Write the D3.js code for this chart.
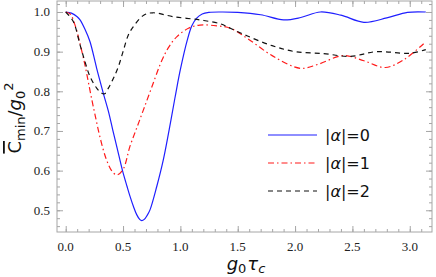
<!DOCTYPE html>
<html><head><meta charset="utf-8">
<script src="https://cdn.jsdelivr.net/npm/d3@7"></script>
<style>html,body{margin:0;padding:0;background:#fff;}svg{display:block;}</style>
</head><body>
<svg id="c" width="436" height="277"></svg>
<script>
// ---- data ----
const xTicks = [0.0, 0.5, 1.0, 1.5, 2.0, 2.5, 3.0];
const yTicks = [0.5, 0.6, 0.7, 0.8, 0.9, 1.0];
const seriesNames = ["|α|=0", "|α|=1", "|α|=2"];

const alpha0X = [0, 0.05, 0.1, 0.125, 0.17, 0.212, 0.27, 0.328, 0.372, 0.41, 0.45, 0.497, 0.535, 0.561, 0.59, 0.619, 0.645, 0.663, 0.685, 0.71, 0.735, 0.794, 0.851, 0.918, 0.96, 1.0, 1.06, 1.1, 1.14, 1.19, 1.25, 1.35, 1.5, 1.7, 1.9, 2.05, 2.22, 2.4, 2.6, 2.8, 2.98, 3.14];
const alpha0Y = [1.0, 0.997, 0.988, 0.98, 0.955, 0.925, 0.858, 0.795, 0.75, 0.703, 0.655, 0.598, 0.56, 0.535, 0.51, 0.489, 0.477, 0.474, 0.477, 0.487, 0.501, 0.56, 0.627, 0.728, 0.795, 0.855, 0.929, 0.965, 0.984, 0.995, 0.999, 1.0, 0.999, 0.993, 0.98, 0.986, 1.0, 0.992, 0.974, 0.985, 0.999, 1.0];

const alpha1X = [0, 0.04, 0.08, 0.125, 0.168, 0.197, 0.227, 0.26, 0.3, 0.35, 0.4, 0.445, 0.5, 0.56, 0.62, 0.68, 0.75, 0.84, 0.9, 0.97, 1.07, 1.17, 1.32, 1.435, 1.6, 1.8, 2.045, 2.2, 2.42, 2.6, 2.786, 2.95, 3.14];
const alpha1Y = [1.0, 0.995, 0.968, 0.92, 0.866, 0.824, 0.78, 0.735, 0.683, 0.632, 0.6, 0.589, 0.603, 0.661, 0.708, 0.755, 0.81, 0.879, 0.912, 0.938, 0.959, 0.967, 0.965, 0.959, 0.93, 0.89, 0.858, 0.868, 0.89, 0.877, 0.86, 0.88, 0.925];

const alpha2X = [0, 0.066, 0.125, 0.168, 0.212, 0.27, 0.314, 0.34, 0.372, 0.415, 0.459, 0.5, 0.546, 0.59, 0.68, 0.76, 0.94, 1.17, 1.35, 1.435, 1.58, 1.8, 2.0, 2.25, 2.48, 2.71, 3.0, 3.14];
const alpha2Y = [1.0, 0.976, 0.917, 0.875, 0.837, 0.808, 0.795, 0.794, 0.808, 0.832, 0.862, 0.9, 0.942, 0.963, 0.992, 0.998, 0.988, 0.98, 0.97, 0.959, 0.94, 0.915, 0.9, 0.895, 0.888, 0.9, 0.896, 0.905];

// ---- layout ----
const svg = d3.select("#c");
const L = 57, R = 432, T = 1, B = 232;
const x = d3.scaleLinear().domain([-0.0759, 3.194]).range([L, R]);
const y = d3.scaleLinear().domain([0.4452, 1.0277]).range([B, T]);

const frameColor = "#a6a6a6";
const serif = "'Liberation Serif','DejaVu Serif',serif";
const sans = "'DejaVu Sans',sans-serif";

const xMinor = d3.range(0, 32).map(i => +(i * 0.1).toFixed(2)).filter(v => x(v) <= R);
const yMinor = d3.range(22, 52).map(i => +(i * 0.02).toFixed(2)).filter(v => y(v) >= T && y(v) <= B);

function tickAxis(axisFn, scale, vals, size, transform) {
  const g = svg.append("g").attr("transform", transform)
    .call(axisFn(scale).tickValues(vals).tickSize(size).tickFormat(""));
  g.select(".domain").remove();
  g.selectAll(".tick line").attr("stroke", frameColor).attr("stroke-width", 1);
  return g;
}
// bottom (inward)
tickAxis(d3.axisTop, x, xMinor, 3, `translate(0,${B})`);
tickAxis(d3.axisTop, x, xTicks, 6, `translate(0,${B})`);
svg.append("g").selectAll("text").data(xTicks).join("text")
  .attr("x", d => x(d)).attr("y", 251).attr("text-anchor", "middle")
  .attr("font-family", serif).attr("font-size", 13).attr("fill", "#222")
  .text(d => d3.format(".1f")(d));
// top
tickAxis(d3.axisBottom, x, xMinor, 3, `translate(0,${T})`);
tickAxis(d3.axisBottom, x, xTicks, 6, `translate(0,${T})`);
// left
tickAxis(d3.axisRight, y, yMinor, 3, `translate(${L},0)`);
tickAxis(d3.axisRight, y, yTicks, 6, `translate(${L},0)`);
svg.append("g").selectAll("text").data(yTicks).join("text")
  .attr("x", 50).attr("y", d => y(d) + 4.5).attr("text-anchor", "end")
  .attr("font-family", serif).attr("font-size", 13).attr("fill", "#222")
  .text(d => d3.format(".1f")(d));
// right
tickAxis(d3.axisLeft, y, yMinor, 3, `translate(${R},0)`);
tickAxis(d3.axisLeft, y, yTicks, 6, `translate(${R},0)`);

// frame
svg.append("rect").attr("x", L).attr("y", T).attr("width", R - L).attr("height", B - T)
  .attr("fill", "none").attr("stroke", frameColor).attr("stroke-width", 1);

// ---- curves ----
const series = [
  { name: seriesNames[0], xs: alpha0X, ys: alpha0Y, color: "#1f1fff", dash: null },
  { name: seriesNames[1], xs: alpha1X, ys: alpha1Y, color: "#ff1a1a", dash: "6,3,1.5,3" },
  { name: seriesNames[2], xs: alpha2X, ys: alpha2Y, color: "#111", dash: "5,4" }
];
const line = d3.line().x(d => x(d[0])).y(d => y(d[1])).curve(d3.curveCatmullRom.alpha(0.5));
const plot = svg.append("g");
plot.append("clipPath").attr("id", "clip").append("rect")
  .attr("x", L).attr("y", T).attr("width", R - L).attr("height", B - T);
series.forEach(s => {
  plot.append("path").datum(d3.zip(s.xs, s.ys))
    .attr("clip-path", "url(#clip)")
    .attr("d", line).attr("fill", "none").attr("stroke", s.color)
    .attr("stroke-width", 1.2).attr("stroke-dasharray", s.dash);
});

// ---- legend ----
const leg = svg.append("g");
series.forEach((s, i) => {
  const ly = 135 + i * 28;
  leg.append("line").attr("x1", 268).attr("x2", 317).attr("y1", ly).attr("y2", ly)
    .attr("stroke", s.color).attr("stroke-width", 1.2).attr("stroke-dasharray", s.dash);
  const t = leg.append("text").attr("x", 325).attr("y", ly + 6)
    .attr("font-family", sans).attr("font-size", 16).attr("fill", "#111");
  const parts = s.name.split("α");
  t.append("tspan").text(parts[0]);
  t.append("tspan").attr("font-style", "italic").text("α");
  t.append("tspan").text(parts[1]);
});

// ---- axis labels ----
const xl = svg.append("text").attr("x", 246).attr("y", 270).attr("text-anchor", "middle")
  .attr("font-family", sans).attr("font-size", 18).attr("fill", "#111");
xl.append("tspan").attr("font-style", "italic").text("g");
xl.append("tspan").attr("font-size", 13).attr("dy", 3).text("0");
xl.append("tspan").attr("font-style", "italic").attr("dy", -3).attr("dx", 1).text("τ");
xl.append("tspan").attr("font-style", "italic").attr("font-size", 13).attr("dy", 3).text("c");

const yl = svg.append("text").attr("transform", "translate(21,118) rotate(-90)")
  .attr("text-anchor", "middle").attr("font-family", sans).attr("font-size", 18).attr("fill", "#111");
yl.append("tspan").style("text-decoration", "overline").text("C");
yl.append("tspan").attr("font-size", 13).attr("dy", 4).text("min");
yl.append("tspan").attr("dy", -4).text("/");
yl.append("tspan").attr("font-style", "italic").text("g");
yl.append("tspan").attr("font-size", 13).attr("dy", 4).text("0");
yl.append("tspan").attr("font-size", 13).attr("dy", -12).text("2");
</script>
</body></html>
